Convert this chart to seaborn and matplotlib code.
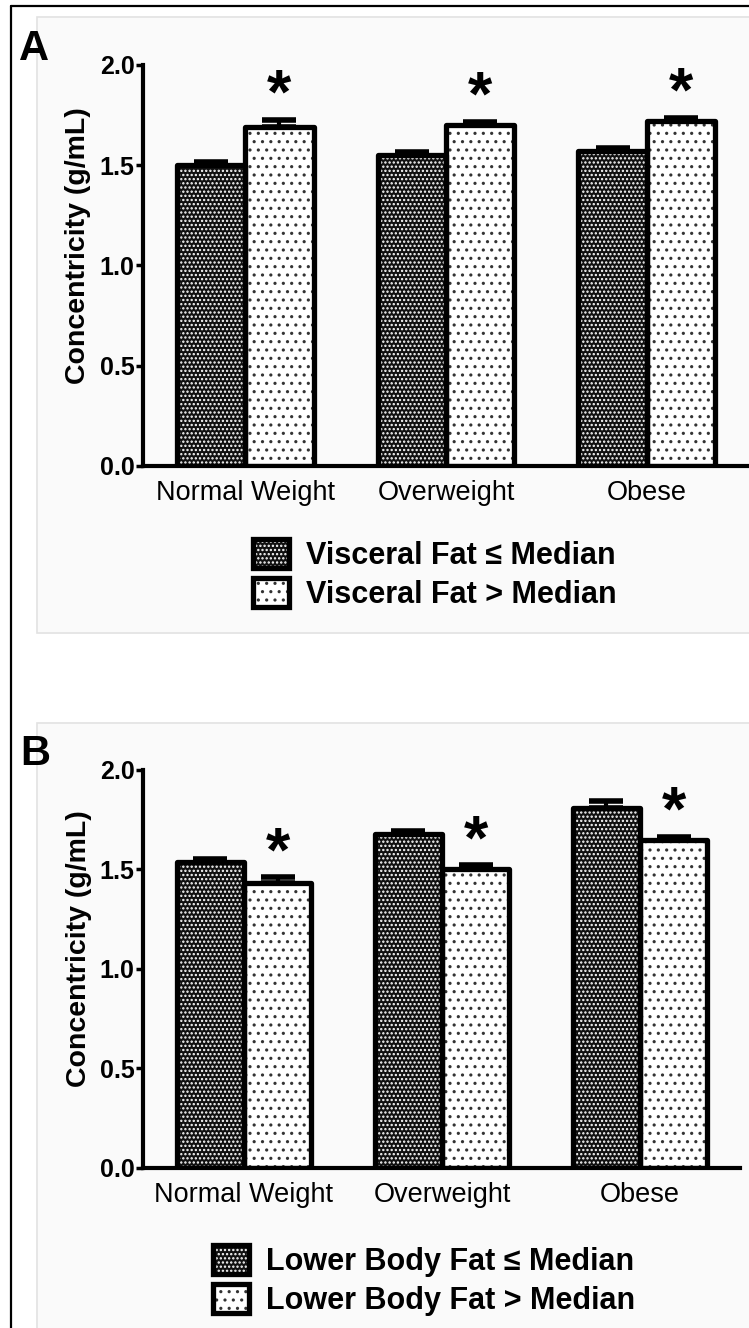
import numpy as np
import pandas as pd
import matplotlib
matplotlib.use("Agg")
import matplotlib.pyplot as plt
from matplotlib.patches import Rectangle, Patch
from matplotlib.lines import Line2D
from matplotlib.legend_handler import HandlerTuple
import seaborn as sns

# values
categories = ["Normal Weight", "Overweight", "Obese"]

visceral_low = [1.50, 1.55, 1.57]
visceral_low_err = [0.015, 0.015, 0.015]
visceral_high = [1.69, 1.70, 1.72]
visceral_high_err = [0.035, 0.015, 0.015]

lower_low = [1.54, 1.68, 1.81]
lower_low_err = [0.015, 0.015, 0.035]
lower_high = [1.43, 1.50, 1.65]
lower_high_err = [0.03, 0.02, 0.015]

labels_a = ["Visceral Fat \u2264 Median", "Visceral Fat > Median"]
labels_b = ["Lower Body Fat \u2264 Median", "Lower Body Fat > Median"]
yticks = [0.0, 0.5, 1.0, 1.5, 2.0]

sns.set_style("white")
plt.rcParams["font.family"] = ["Liberation Sans", "DejaVu Sans"]
plt.rcParams["hatch.linewidth"] = 1.1
for k in ["text.color", "axes.labelcolor", "xtick.color", "ytick.color", "axes.edgecolor"]:
    plt.rcParams[k] = "black"

DARK = "#111111"
LIGHT = "#ffffff"
EDGE_LW = 3.8
# (hatch colour, hatch) for the "<= median" and "> median" bars
STYLES = [("white", "...."), ("#333333", "..")]


def long_table(low, high, labels):
    return pd.DataFrame({
        "group": categories * 2,
        "value": list(low) + list(high),
        "fat": [labels[0]] * 3 + [labels[1]] * 3,
    })


def draw_panel(ax, low, low_err, high, high_err, labels, right):
    df = long_table(low, high, labels)
    sns.barplot(data=df, x="group", y="value", hue="fat", order=categories,
                hue_order=labels, palette=[DARK, LIGHT], saturation=1,
                width=0.68, errorbar=None, legend=False, ax=ax)
    for cont, (hc, hatch), vals, errs in zip(ax.containers, STYLES,
                                            [low, high], [low_err, high_err]):
        xs = []
        for bar in cont:
            bar.set_edgecolor(hc)
            bar.set_linewidth(0)
            bar.set_hatch(hatch)
            ax.add_patch(Rectangle(bar.get_xy(), bar.get_width(), bar.get_height(),
                                   fill=False, ec="black", lw=EDGE_LW,
                                   joinstyle="round", zorder=3))
            xs.append(bar.get_x() + bar.get_width() / 2)
        ax.errorbar(xs, vals, yerr=[np.zeros(3), errs], fmt="none", ecolor="black",
                    elinewidth=3, capsize=12, capthick=4, zorder=2)
    # significance stars over the "> median" bars
    for bar, v, e in zip(ax.containers[1], high, high_err):
        ax.text(bar.get_x() + bar.get_width() / 2, v + e + 0.12, "*",
                ha="center", va="center", fontsize=45, fontweight="bold")

    ax.set_xlim(-0.51, right)
    ax.set_ylim(0, 2.0)
    ax.set_yticks(yticks)
    ax.set_yticklabels(["%.1f" % t for t in yticks], fontsize=18, fontweight="bold")
    ax.tick_params(axis="y", length=5, width=2.5, pad=1, direction="out", left=True)
    ax.tick_params(axis="x", length=0, labelsize=19.5, pad=10)
    ax.set_xlabel("")
    ax.set_ylabel("Concentricity (g/mL)", fontsize=20.5, fontweight="bold")
    ax.yaxis.set_label_coords(-0.085, 0.55)
    sns.despine(ax=ax)
    for s in ["left", "bottom"]:
        ax.spines[s].set_linewidth(3)
    ax.set_facecolor("none")


def legend_handles():
    h = []
    for fc, (hc, hatch) in zip([DARK, LIGHT], STYLES):
        fill = Patch(facecolor=fc, edgecolor=hc, lw=0, hatch=hatch)
        outline = Patch(facecolor="none", edgecolor="black", lw=EDGE_LW, joinstyle="round")
        h.append((fill, outline))
    return h


fig = plt.figure(figsize=(7.49, 13.28), dpi=100)
fig.patch.set_facecolor("white")

# light panel backgrounds and outer frame
fig.patches.append(Rectangle((0.0494, 0.5233), 1.0, 0.4639, transform=fig.transFigure,
                             fc="#fafafa", ec="#e2e2e2", lw=1.2, zorder=-5))
fig.patches.append(Rectangle((0.0494, -0.01), 1.0, 0.4656, transform=fig.transFigure,
                             fc="#fafafa", ec="#e2e2e2", lw=1.2, zorder=-5))
fig.lines.append(Line2D([0.0147, 0.0147], [0.9955, 0.0], transform=fig.transFigure,
                        color="black", lw=1.6))
fig.lines.append(Line2D([0.0147, 1.0], [0.9955, 0.9955], transform=fig.transFigure,
                        color="black", lw=1.6))

ax_a = fig.add_axes([0.1909, 0.6491, 0.8091, 0.302])
draw_panel(ax_a, visceral_low, visceral_low_err, visceral_high, visceral_high_err,
           labels_a, 2.51)
ax_b = fig.add_axes([0.1909, 0.1205, 0.797, 0.2997])
draw_panel(ax_b, lower_low, lower_low_err, lower_high, lower_high_err, labels_b, 2.505)

for ax, lab in [(ax_a, "A"), (ax_b, "B")]:
    ax.text(-0.205, 1.04, lab, transform=ax.transAxes, fontsize=30, fontweight="bold",
            ha="left", va="center")

legend_kw = dict(loc="center left", frameon=False, borderpad=0, borderaxespad=0,
                 handlelength=1.18, handleheight=1.08, handletextpad=0.55,
                 labelspacing=0.25, prop={"size": 22, "weight": "bold"},
                 handler_map={tuple: HandlerTuple(ndivide=1)})
fig.legend(legend_handles(), labels_a, bbox_to_anchor=(0.3378, 0.5674), **legend_kw)
fig.legend(legend_handles(), labels_b, bbox_to_anchor=(0.2844, 0.0358), **legend_kw)

fig.savefig("out.png", dpi=100)
